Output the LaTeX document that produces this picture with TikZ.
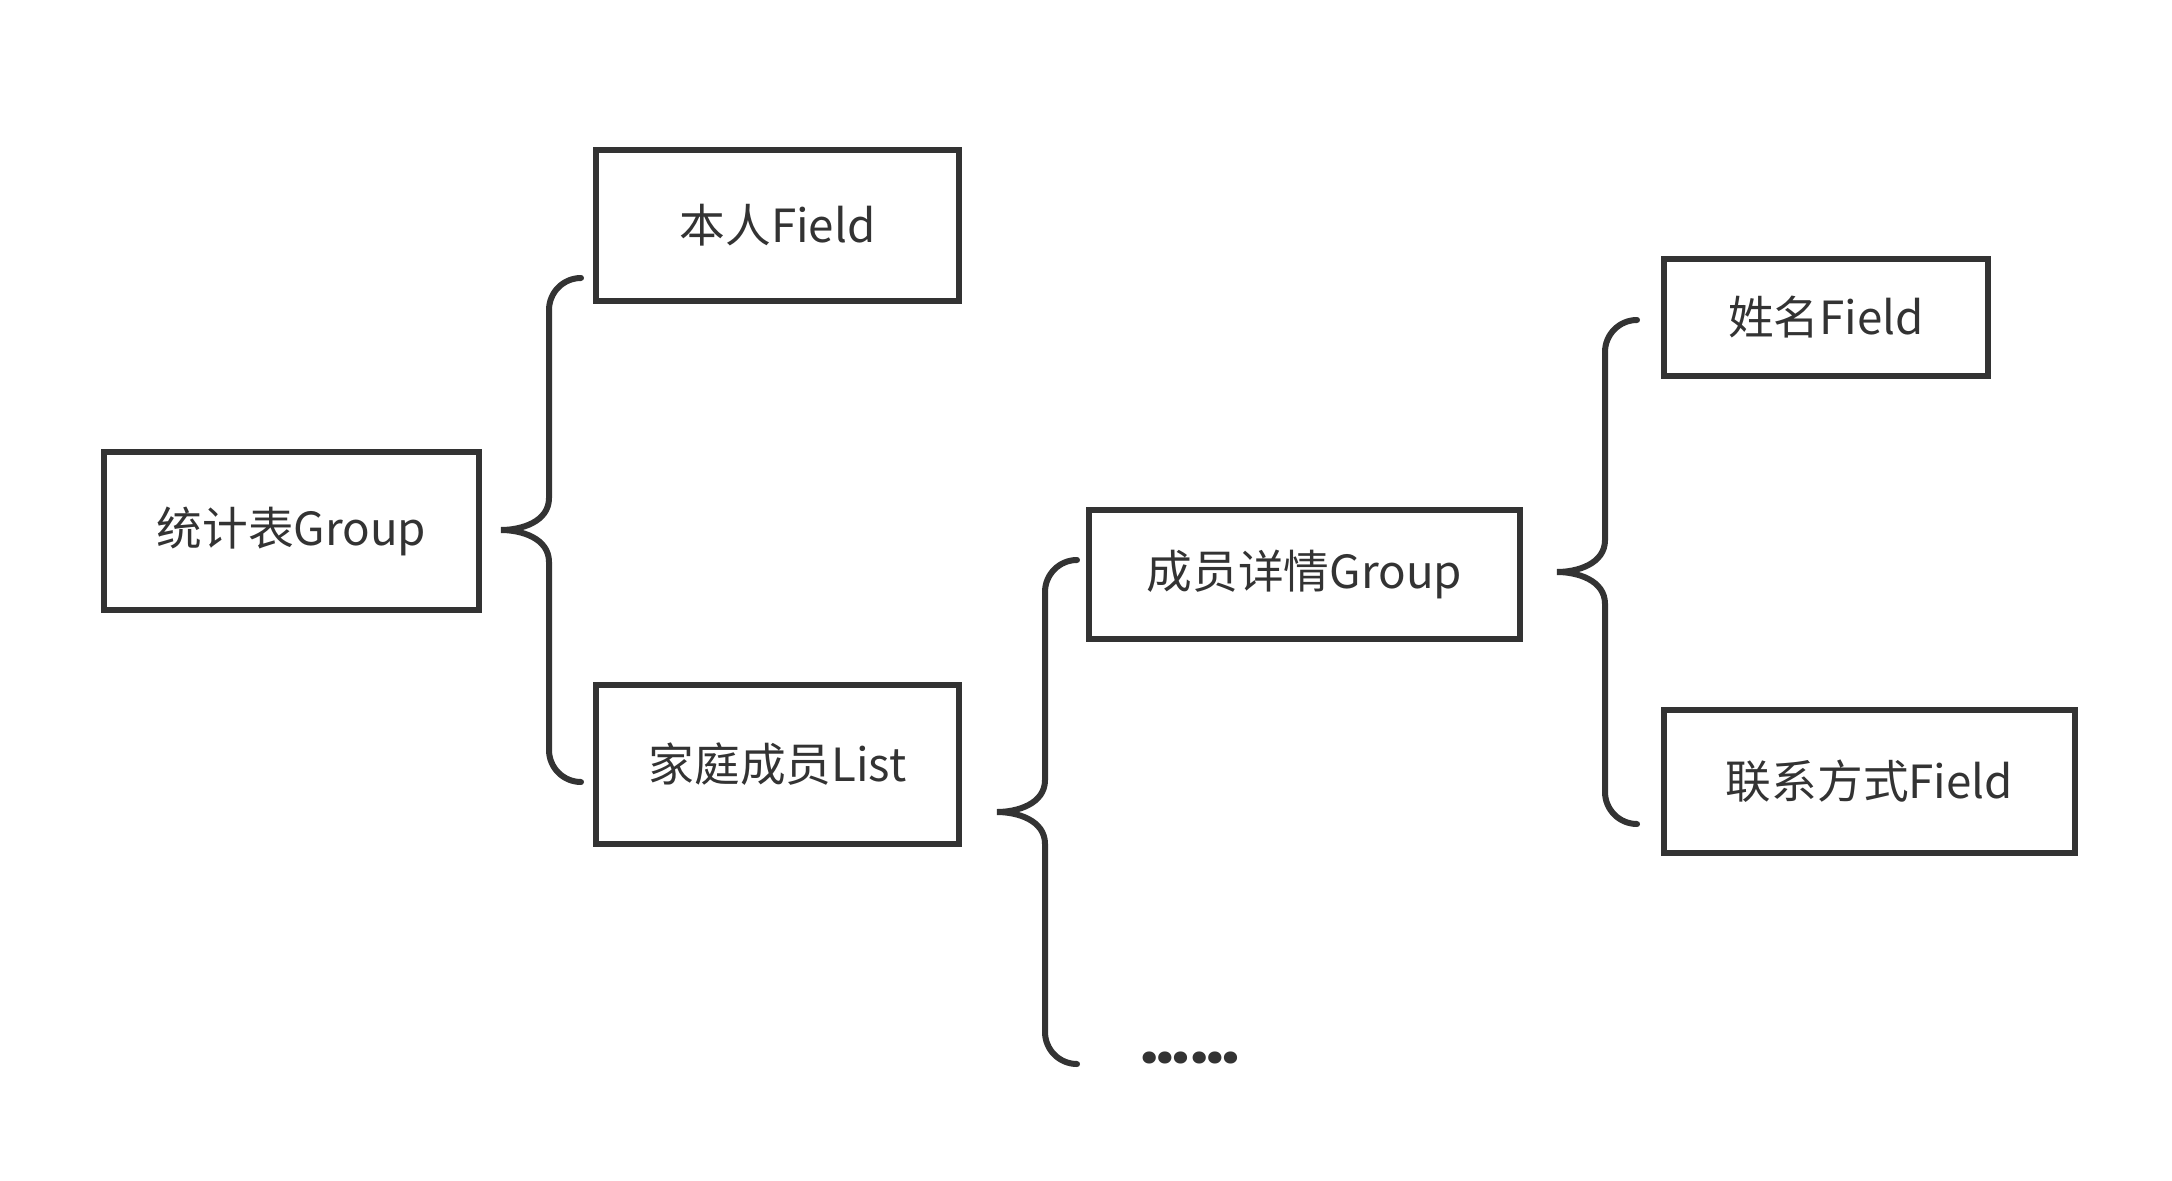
\documentclass[tikz,border=0pt]{standalone}
\usepackage{fontspec}
\setmainfont{Noto Sans CJK SC}
\newfontfamily\dotfont{Poppins}
\usetikzlibrary{positioning}
\definecolor{ink}{HTML}{333333}

\begin{document}
\begin{tikzpicture}[
    box/.style={draw=ink, line width=0.06cm, text=ink, inner sep=0pt,
        font=\fontsize{13pt}{15pt}\selectfont},
    brace/.style={draw=ink, line width=0.06cm, line cap=round}
]
    \useasboundingbox (0,0) rectangle (21.72,11.80);

    \node[box, minimum width=3.75cm, minimum height=1.58cm] (table) at (2.915,6.49) {统计表Group};
    \node[box, minimum width=3.63cm, minimum height=1.51cm] (self) at (7.775,9.545) {本人Field};
    \node[box, minimum width=3.63cm, minimum height=1.59cm] (family) at (7.775,4.155) {家庭成员List};
    \node[box, minimum width=4.31cm, minimum height=1.29cm] (member) at (13.045,6.055) {成员详情Group};
    \node[box, minimum width=3.24cm, minimum height=1.17cm] (name) at (18.26,8.625) {姓名Field};
    \node[box, minimum width=4.11cm, minimum height=1.43cm] (contact) at (18.695,3.985) {联系方式Field};
    \node[text=ink, inner sep=0pt, anchor=base,
        font=\dotfont\bfseries\fontsize{18.5pt}{20pt}\selectfont] (more) at (11.90,1.17) {……};

    % brace tips
    \coordinate (tip-table) at (5.01,6.50);
    \coordinate (tip-family) at (9.97,3.68);
    \coordinate (tip-member) at (15.57,6.08);

    \foreach \t in {table,family,member} {
        \begin{scope}[shift={(tip-\t)}]
            \draw[brace] (0.80,2.52) arc[start angle=90, end angle=180, radius=0.32]
                -- (0.48,0.32) .. controls (0.48,0.08) and (0.2,0) .. (0,0)
                .. controls (0.2,0) and (0.48,-0.08) .. (0.48,-0.32)
                -- (0.48,-2.20) arc[start angle=180, end angle=270, radius=0.32];
        \end{scope}
    }

\end{tikzpicture}
\end{document}
